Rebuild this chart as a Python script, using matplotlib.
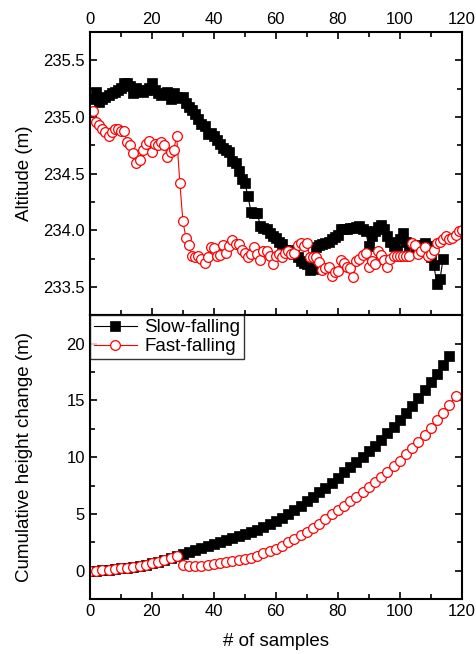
import numpy as np
import matplotlib
matplotlib.use('Agg')
import matplotlib.pyplot as plt
from matplotlib.ticker import MultipleLocator

plt.rcParams['font.family'] = ['Liberation Sans', 'DejaVu Sans']

# altitude, one value per sample (x = 1, 2, ...)
slow_alt = [
    235.16, 235.22, 235.13, 235.16, 235.18, 235.19, 235.21, 235.22, 235.24, 235.26,
    235.30, 235.30, 235.27, 235.21, 235.26, 235.24, 235.22, 235.24, 235.26, 235.30,
    235.24, 235.21, 235.19, 235.20, 235.22, 235.16, 235.21, 235.18, 235.17, 235.18,
    235.12, 235.09, 235.06, 235.03, 234.98, 234.94, 234.92, 234.85, 234.86, 234.83,
    234.80, 234.76, 234.73, 234.71, 234.69, 234.61, 234.59, 234.52, 234.45, 234.42,
    234.30, 234.16, 234.15, 234.15, 234.04, 234.02, 234.01, 233.98, 233.95, 233.93,
    233.90, 233.88, 233.83, 233.83, 233.80, 233.79, 233.76, 233.73, 233.71, 233.70,
    233.65, 233.66, 233.85, 233.87, 233.88, 233.89, 233.90, 233.92, 233.94, 233.96,
    234.01, 234.01, 234.01, 234.02, 234.02, 234.03, 234.04, 234.01, 233.99, 233.86,
    233.95, 233.99, 234.03, 234.05, 234.01, 233.95, 233.90, 233.86, 233.83, 233.92,
    233.98, 233.90, 233.85, 233.82, 233.83, 233.86, 233.87, 233.89, 233.86, 233.76,
    233.69, 233.53, 233.57, 233.75,
]
fast_alt = [
    235.05, 234.96, 234.93, 234.89, 234.87, 234.83, 234.87, 234.89, 234.89, 234.88,
    234.88, 234.78, 234.75, 234.68, 234.59, 234.62, 234.71, 234.76, 234.79, 234.69,
    234.76, 234.75, 234.78, 234.75, 234.65, 234.69, 234.71, 234.83, 234.42, 234.08,
    233.93, 233.87, 233.77, 233.76, 233.77, 233.75, 233.71, 233.76, 233.85, 233.84,
    233.77, 233.78, 233.87, 233.80, 233.86, 233.91, 233.88, 233.88, 233.83, 233.80,
    233.76, 233.79, 233.85, 233.79, 233.74, 233.82, 233.82, 233.77, 233.70, 233.77,
    233.79, 233.76, 233.80, 233.82, 233.79, 233.80, 233.87, 233.89, 233.86, 233.89,
    233.76, 233.76, 233.76, 233.72, 233.65, 233.67, 233.68, 233.60, 233.63, 233.64,
    233.74, 233.71, 233.68, 233.67, 233.59, 233.73, 233.75, 233.78, 233.80, 233.68,
    233.73, 233.70, 233.82, 233.78, 233.74, 233.68, 233.75, 233.77, 233.77, 233.77,
    233.77, 233.77, 233.77, 233.89, 233.87, 233.79, 233.82, 233.85, 233.77, 233.79,
    233.83, 233.89, 233.90, 233.92, 233.95, 233.92, 233.93, 233.96, 233.99, 234.00,
]

# cumulative height change, every second sample (x = 0, 2, 4, ...)
slow_cum = [
    0.00, 0.00, 0.03, 0.09, 0.15, 0.20, 0.26, 0.35, 0.44, 0.53,
    0.64, 0.76, 0.91, 1.11, 1.32, 1.50, 1.65, 1.82, 1.98, 2.15,
    2.32, 2.50, 2.67, 2.85, 3.03, 3.22, 3.42, 3.62, 3.85, 4.10,
    4.38, 4.68, 5.00, 5.35, 5.70, 6.10, 6.50, 6.90, 7.30, 7.70,
    8.20, 8.65, 9.10, 9.55, 10.00, 10.50, 11.00, 11.55, 12.10, 12.65,
    13.25, 13.85, 14.50, 15.20, 15.90, 16.60, 17.35, 18.10, 18.95,
]
fast_cum = [
    0.00, 0.00, 0.03, 0.09, 0.15, 0.20, 0.26, 0.35, 0.44, 0.53,
    0.64, 0.76, 0.91, 1.11, 1.32, 0.50, 0.38, 0.40, 0.45, 0.50,
    0.56, 0.64, 0.73, 0.82, 0.92, 1.01, 1.14, 1.32, 1.52, 1.72,
    1.95, 2.20, 2.50, 2.80, 3.10, 3.45, 3.80, 4.15, 4.55, 4.95,
    5.35, 5.70, 6.10, 6.50, 6.90, 7.35, 7.80, 8.25, 8.70, 9.20,
    9.70, 10.25, 10.80, 11.35, 11.95, 12.60, 13.25, 13.90, 14.60, 15.35,
]

x_slow_alt = np.arange(1, len(slow_alt) + 1)
x_fast_alt = np.arange(1, len(fast_alt) + 1)
x_slow_cum = np.arange(len(slow_cum)) * 2
x_fast_cum = np.arange(len(fast_cum)) * 2

fig = plt.figure(figsize=(4.76, 6.54), dpi=100)
ax1 = fig.add_axes([0.189, 0.518, 0.781, 0.433])
ax2 = fig.add_axes([0.189, 0.084, 0.781, 0.434])

sq = dict(color='black', marker='s', markersize=7, linewidth=0.8,
          markerfacecolor='black', markeredgecolor='black', markeredgewidth=0.5)
ci = dict(color='red', marker='o', markersize=7, linewidth=0.8,
          markerfacecolor='white', markeredgecolor='red', markeredgewidth=0.9)

ax1.plot(x_slow_alt, slow_alt, **sq)
ax1.plot(x_fast_alt, fast_alt, **ci)
ax2.plot(x_slow_cum, slow_cum, label='Slow-falling', **sq)
ax2.plot(x_fast_cum, fast_cum, label='Fast-falling', **ci)

for ax in (ax1, ax2):
    ax.set_xlim(0, 120)
    ax.xaxis.set_major_locator(MultipleLocator(20))
    ax.xaxis.set_minor_locator(MultipleLocator(10))
    for s in ax.spines.values():
        s.set_linewidth(1.5)
    ax.tick_params(which='both', direction='in', width=1.2, labelsize=12,
                   right=True)
    ax.tick_params(which='major', length=5)
    ax.tick_params(which='minor', length=3.5)

ax1.set_ylim(233.25, 235.75)
ax1.yaxis.set_major_locator(MultipleLocator(0.5))
ax1.yaxis.set_minor_locator(MultipleLocator(0.25))
ax1.xaxis.tick_top()
ax1.tick_params(which='both', bottom=True, top=True)
ax1.set_ylabel('Altitude (m)', fontsize=13.5)
ax1.yaxis.set_label_coords(-0.154, 0.5)

ax2.set_ylim(-2.5, 22.5)
ax2.yaxis.set_major_locator(MultipleLocator(5))
ax2.yaxis.set_minor_locator(MultipleLocator(2.5))
ax2.tick_params(which='both', top=False)
ax2.set_ylabel('Cumulative height change (m)', fontsize=13.5)
ax2.yaxis.set_label_coords(-0.154, 0.5)
ax2.set_xlabel('# of samples', fontsize=13.5, labelpad=10)

leg = ax2.legend(loc='upper left', fontsize=13.5, frameon=True, fancybox=False,
                 borderaxespad=0, handlelength=2.3, handletextpad=0.4,
                 borderpad=0.2, labelspacing=0.1)
leg.get_frame().set_edgecolor('black')
leg.get_frame().set_linewidth(1.0)

fig.savefig('out.png', dpi=100)
